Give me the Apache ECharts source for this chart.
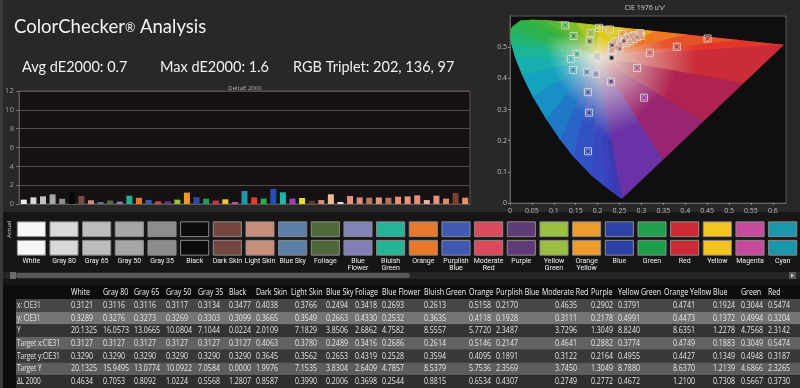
<!DOCTYPE html>
<html><head><meta charset="utf-8">
<script src="https://cdn.jsdelivr.net/npm/echarts@6/dist/echarts.min.js"></script>
<style>html,body{margin:0;padding:0;background:#2a2727;}#c{width:800px;height:388px;}</style>
</head><body><div id="c"></div>
<script>
// ---------- DATA ----------
const barCategories = ['White','Gray 80','Gray 65','Gray 50','Gray 35','Black','Dark Skin','Light Skin','Blue Sky','Foliage','Blue Flower','Bluish Green','Orange','Purplish Blue','Moderate Red','Purple','Yellow Green','Orange Yellow','Blue','Green','Red','Yellow','Magenta','Cyan',
  '100% Red','100% Green','100% Blue','100% Cyan','100% Magenta','100% Yellow',
  'Skin 1','Skin 2','Skin 3','Skin 4','Skin 5','Skin 6','Skin 7','Skin 8','Skin 9','Skin 10','Skin 11','Skin 12','Skin 13','Skin 14','Skin 15','Skin 16','Skin 17'];
const barValues = [0.4634,0.7053,0.8092,1.0224,0.5568,1.2807,0.8587,0.3990,0.2006,0.3698,0.2544,0.8815,0.6534,0.4307,0.2749,0.2772,0.4672,1.2100,0.7308,0.5667,0.3730,0.50,0.21,1.38,
  0.70,0.57,1.60,1.24,0.57,0.64,
  0.35,0.42,1.03,0.21,0.85,0.70,0.67,0.70,0.67,0.78,0.81,0.92,0.42,0.88,0.57,1.17,0.67];
const barColors = ['#ececec','#d8d8d8','#c0c0c0','#a8a8a8','#8c8c8c','#080808','#7a4a44','#c89080','#5a7ca8','#5a6a48','#8080b8','#20b090','#e87830','#4058b0','#d84858','#6a3a80','#98c040','#f09a2a','#3048a8','#20a050','#d03040','#f0c828','#c050a0','#1a98aa',
  '#e83a30','#28b050','#2050b8','#20b8a8','#a040c0','#e8e020',
  '#5a3a30','#d09080','#f0b898','#f0d8d0','#e8907a','#d89078','#b87860','#e09880','#b87058','#e89070','#e8907a','#f08878','#f0b0a8','#e89080','#e08870','#7a4030','#e8906a'];

const swatchLabels = ['White','Gray 80','Gray 65','Gray 50','Gray 35','Black','Dark Skin','Light Skin','Blue Sky','Foliage','Blue\nFlower','Bluish\nGreen','Orange','Purplish\nBlue','Moderate\nRed','Purple','Yellow\nGreen','Orange\nYellow','Blue','Green','Red','Yellow','Magenta','Cyan'];
const swatchRows = ['Actual','Target'];
const actualColors = ['#f7f7f7','#d9d9d9','#bdbdbd','#a6a6a6','#8d8d8d','#0c0c0c','#744841','#c98f7d','#5b7fa6','#4e6a3d','#8281b8','#25b496','#ea7a2b','#4059b4','#dc4a5d','#5f3b78','#99c041','#ee9c2d','#2d41a8','#1fa04f','#cc2b37','#f3c622','#c64b9c','#1b96aa'];
const targetColors = ['#f7f7f7','#d8d8d8','#bcbcbc','#a5a5a5','#8c8c8c','#0a0a0a','#734740','#c88e7c','#5a7ea6','#4d693c','#8180b8','#24b395','#e9792a','#3f58b4','#db495c','#5e3a78','#98bf40','#ed9b2c','#2c40a8','#1e9f4e','#cb2a36','#f2c520','#c54a9b','#1a95a9'];

const tableColumns = ['White','Gray 80','Gray 65','Gray 50','Gray 35','Black','Dark Skin','Light Skin','Blue Sky','Foliage','Blue Flower','Bluish Green','Orange','Purplish Blue','Moderate Red','Purple','Yellow Green','Orange Yellow','Blue','Green','Red'];
const rowLabels = ['x: CIE31','y: CIE31','Y','Target x:CIE31','Target y:CIE31','Target Y','ΔL 2000'];
const xCIE31 = [0.3121,0.3116,0.3116,0.3117,0.3134,0.3477,0.4038,0.3766,0.2494,0.3418,0.2693,0.2613,0.5158,0.2170,0.4635,0.2902,0.3791,0.4741,0.1924,0.3044,0.5474];
const yCIE31 = [0.3289,0.3276,0.3273,0.3269,0.3303,0.3099,0.3665,0.3549,0.2663,0.4330,0.2532,0.3635,0.4118,0.1928,0.3111,0.2178,0.4991,0.4473,0.1372,0.4994,0.3204];
const bigY = [20.1325,16.0573,13.0665,10.0804,7.1044,0.0224,2.0109,7.1829,3.8506,2.6862,4.7582,8.5557,5.7720,2.3487,3.7296,1.3049,8.8240,8.6351,1.2278,4.7568,2.3142];
const targetX = [0.3127,0.3127,0.3127,0.3127,0.3127,0.3127,0.4063,0.3780,0.2489,0.3416,0.2686,0.2614,0.5146,0.2147,0.4641,0.2882,0.3774,0.4749,0.1883,0.3049,0.5474];
const targetY = [0.3290,0.3290,0.3290,0.3290,0.3290,0.3290,0.3645,0.3562,0.2653,0.4319,0.2528,0.3594,0.4095,0.1891,0.3122,0.2164,0.4955,0.4427,0.1349,0.4948,0.3187];
const targetBigY = [20.1325,15.9495,13.0774,10.0922,7.0584,0.0000,1.9976,7.1535,3.8304,2.6409,4.7857,8.5379,5.7536,2.3569,3.7450,1.3049,8.7880,8.6370,1.2139,4.6866,2.3265];
const dE2000 = [0.4634,0.7053,0.8092,1.0224,0.5568,1.2807,0.8587,0.3990,0.2006,0.3698,0.2544,0.8815,0.6534,0.4307,0.2749,0.2772,0.4672,1.2100,0.7308,0.5667,0.3730];

// CIE u'v' points
const cieU = [0.1985,0.2320,0.2496,0.2316,0.1751,0.1820,0.1959,0.1528,0.2986,0.1779,0.3193,0.2306,0.1842,0.2556,0.1806,0.1452,0.3808,0.2280,0.2900,0.1440,
  0.4510,0.1260,0.1780,0.1390,0.3060,0.2030,
  0.2330,0.2400,0.2470,0.2560,0.2630,0.2690,0.2790,0.2850,0.2900,0.2970,0.2330,0.2440,0.2650,0.2740,0.2520,0.2600,0.2820];
const cieV = [0.4700,0.4660,0.4959,0.4910,0.4207,0.5187,0.4143,0.4783,0.5363,0.3556,0.4822,0.3895,0.5457,0.5426,0.2897,0.5360,0.5015,0.5570,0.4330,0.4270,
  0.5280,0.5700,0.1660,0.4620,0.3380,0.5620,
  0.5060,0.5160,0.5190,0.5250,0.5290,0.5320,0.5350,0.5380,0.5320,0.5450,0.4920,0.5000,0.5130,0.5190,0.5100,0.5200,0.5260];
const cieColors = ['#c8c8c8','#000000','#7a4a42','#c8907e','#5a7ca6','#4d6a3c','#8080b8','#22b496','#e87a2a','#3f58b4','#dc4a5c','#5e3a78','#98c040','#ec9c2c','#2c40a8','#1ea050','#cc2a36','#f2c620','#c64a9c','#1a96aa',
  '#ff2a20','#20c040','#2040d0','#20c8c8','#c030c8','#f0f020',
  '#5a3a30','#d09080','#f0b898','#f0d8d0','#e8907a','#d89078','#b87860','#e09880','#b87058','#e89070','#e8907a','#f08878','#f0b0a8','#e89080','#e08870','#7a4030','#e8906a'];

// spectral locus (u', v') outline of the diagram and its edge colours
const locusU = [0.2568,0.2522,0.2347,0.2161,0.1877,0.1441,0.1147,0.0828,0.0521,0.0282,0.0119,0.0035,0.0014,0.0046,0.0231,0.0501,0.0792,0.1127,0.1531,0.2026,0.2623,0.3315,0.4035,0.5203,0.6234,0.5317,0.4401,0.3485];
const locusV = [0.0166,0.0169,0.0350,0.0549,0.0871,0.1510,0.2044,0.2708,0.3427,0.4117,0.4698,0.5131,0.5432,0.5638,0.5837,0.5868,0.5856,0.5821,0.5766,0.5694,0.5604,0.5501,0.5393,0.5219,0.5065,0.3840,0.2616,0.1391];
const locusColors = ['#3a36a8','#3b3ab2','#3a40bb','#3848c0','#3252c4','#2a64c8','#2078c8','#1890c6','#14a2c0','#17b0ae','#1cb694','#22b676','#28b45c','#2cb24e','#32b244','#3eb43c','#58b834','#7cc02c','#acc824','#e0cc20','#f2a422','#ee7824','#e85228','#e2362a','#cc2c38','#b02250','#9a2470','#6a32a6'];
const whitePoint = [0.1978, 0.4683];

// ---------- LAYOUT (not data) ----------
const colValueX = [71,103,134,166,198,229,256,295,326,355,382,424,469,496,555,591,618,673,713,741,768];
const colHeaderX = [71,103,134,166,198,229,256,291,326,355,382,424,469,496,542,591,618,664,713,741,768];
const rowFills = ['#474545','#767474','#343232','#646262','#3a3838','#5e5c5c','#302e2e'];

const graphics = [];
graphics.push({type:'rect', z:-10, shape:{x:0,y:212,width:800,height:73}, style:{fill:'#171515'}});
graphics.push({type:'rect', z:-10, shape:{x:0,y:285,width:800,height:103}, style:{fill:'#0e0d0d'}});
graphics.push({type:'rect', z:-9, shape:{x:0,y:0,width:3,height:388}, style:{fill:'#3b3939'}});
// scrollbar
graphics.push({type:'rect', z:-8, shape:{x:3,y:272,width:797,height:7}, style:{fill:'#262424'}});
graphics.push({type:'rect', z:-7, shape:{x:10,y:272,width:6,height:7}, style:{fill:'#6c6a6a'}});
graphics.push({type:'rect', z:-7, shape:{x:16,y:273,width:394,height:5,r:2.5}, style:{fill:'#5a5858'}});
graphics.push({type:'rect', z:-7, shape:{x:789,y:272,width:7,height:7}, style:{fill:'#5a5858'}});
graphics.push({type:'polygon', z:-6, shape:{points:[[791,273.5],[791,277.5],[794,275.5]]}, style:{fill:'#cfcfcf'}});

const rowH = 12.7, rowTop = 299;
const tableRows = [xCIE31, yCIE31, bigY, targetX, targetY, targetBigY, dE2000];
function txt(x, y, s, color, sx) {
  return {type:'text', x:x, y:y, scaleX:sx || 0.78, originX:0, originY:0, z:5,
    style:{text:s, fill:color, fontSize:9, fontFamily:'Open Sans', verticalAlign:'middle', align:'left'}};
}
tableColumns.forEach((h, i) => graphics.push(txt(colHeaderX[i], 292, h, '#f2f2f2')));
tableRows.forEach((arr, r) => {
  const y = rowTop + r*rowH;
  graphics.push({type:'rect', z:-5, shape:{x:16,y:y,width:784,height:rowH}, style:{fill:rowFills[r]}});
  graphics.push(txt(17, y + rowH/2, rowLabels[r], '#e6e6e6', 0.72));
  arr.forEach((v, i) => graphics.push(txt(colValueX[i], y + rowH/2, v.toFixed(4), '#e6e6e6')));
});

// ---------- CHART ----------
const chart = echarts.init(document.getElementById('c'), null, {width:800, height:388});
const swatchData = [];
for (let r = 0; r < 2; r++) for (let i = 0; i < swatchLabels.length; i++) swatchData.push([i, r]);

const statStyle = {color:'#f0f0f0', fontSize:14.5, fontWeight:'normal', fontFamily:'Lato'};
chart.setOption({
  backgroundColor: '#2a2727',
  animation: false,
  textStyle: {fontFamily: 'Open Sans'},
  title: [
    {text:'ColorChecker{r|®} Analysis', left:14, top:18, padding:0, textStyle:{color:'#f2f2f2', fontSize:18.5, fontWeight:'normal', fontFamily:'Lato', rich:{r:{fontSize:12.5, color:'#f2f2f2', fontFamily:'Lato'}}}},
    {text:'Avg dE2000: 0.7', left:22, top:60, padding:0, textStyle:statStyle},
    {text:'Max dE2000: 1.6', left:160, top:60, padding:0, textStyle:statStyle},
    {text:'RGB Triplet: 202, 136, 97', left:293, top:60, padding:0, textStyle:statStyle},
    {text:'DeltaE 2000', left:245, top:85, padding:0, textAlign:'center', textStyle:{color:'#b0b0b0', fontSize:6, fontWeight:'normal'}},
    {text:"CIE 1976 u'v'", left:645, top:4, padding:0, textAlign:'center', textStyle:{color:'#d0d0d0', fontSize:7, fontWeight:'normal'}}
  ],
  graphic: graphics,
  grid: [
    {left:19, right:330, top:91, bottom:184, show:true, backgroundColor:'#161213', borderColor:'#5a5858', borderWidth:1},
    {left:510, right:14, top:16, bottom:185, show:true, backgroundColor:'#110e0f', borderColor:'#5a5858', borderWidth:1},
    {left:15, right:1, top:220, height:37}
  ],
  xAxis: [
    {gridIndex:0, type:'category', data:barCategories, axisLabel:{show:false}, axisTick:{show:false}, axisLine:{lineStyle:{color:'#5a5858'}}},
    {gridIndex:1, type:'value', min:0, max:0.63, interval:0.05, splitLine:{show:false},
      axisLabel:{fontSize:7, color:'#bdbdbd', margin:4, showMaxLabel:false, formatter:v => String(+v.toFixed(2))},
      axisTick:{length:2, lineStyle:{color:'#888'}}, axisLine:{lineStyle:{color:'#666'}}},
    {gridIndex:2, type:'category', data:swatchLabels, position:'bottom',
      axisLabel:{interval:0, fontSize:7, color:'#f0f0f0', margin:1, lineHeight:7, fontFamily:'Roboto'},
      axisTick:{show:false}, axisLine:{show:false}}
  ],
  yAxis: [
    {gridIndex:0, type:'value', min:0, max:12, interval:2,
      axisLabel:{fontSize:8, color:'#9a9a9a', margin:5}, splitLine:{lineStyle:{color:'#4e4c4c'}},
      axisTick:{show:true, length:3, lineStyle:{color:'#777'}}, axisLine:{show:true, lineStyle:{color:'#5a5858'}}},
    {gridIndex:1, type:'value', min:0, max:0.6, interval:0.1, splitLine:{show:false},
      axisLabel:{fontSize:7, color:'#bdbdbd', margin:3, showMaxLabel:false, formatter:v => String(+v.toFixed(1))},
      axisTick:{show:true, length:2, lineStyle:{color:'#888'}}, axisLine:{show:true, lineStyle:{color:'#666'}}},
    {gridIndex:2, type:'category', data:swatchRows, inverse:true,
      axisLabel:{rotate:90, fontSize:6, color:'#cfcfcf', margin:3}, axisTick:{show:false}, axisLine:{show:false}}
  ],
  series: [
    {type:'bar', xAxisIndex:0, yAxisIndex:0, barWidth:6,
      data: barValues.map((v, i) => ({value:v, itemStyle:{color:barColors[i]}}))},
    {type:'custom', xAxisIndex:1, yAxisIndex:1, silent:true, clip:true, z:1,
      data: locusU.map((u, i) => [i]),
      renderItem: function (params, api) {
        const i = api.value(0);
        const j = (i + 1) % locusU.length;
        const c = api.coord(whitePoint);
        const p1 = api.coord([locusU[i], locusV[i]]);
        const p2 = api.coord([locusU[j], locusV[j]]);
        const m = [(p1[0] + p2[0]) / 2, (p1[1] + p2[1]) / 2];
        const g = new echarts.graphic.LinearGradient(c[0], c[1], m[0], m[1], [
          {offset:0, color:'#ecead8'}, {offset:0.6, color:locusColors[i]}, {offset:1, color:locusColors[i]}], true);
        return {type:'polygon', shape:{points:[c, p1, p2]}, style:{fill:g, stroke:g, lineWidth:1}};
      }},
    {type:'scatter', xAxisIndex:1, yAxisIndex:1, symbol:'rect', symbolSize:7, z:3,
      itemStyle:{color:'rgba(0,0,0,0.15)', borderColor:'#e6e6e6', borderWidth:1},
      data: cieU.map((u, i) => [u, cieV[i]])},
    {type:'scatter', xAxisIndex:1, yAxisIndex:1, symbol:'circle', symbolSize:4.5, z:4,
      data: cieU.map((u, i) => ({value:[u, cieV[i]], itemStyle:{color:cieColors[i], borderColor:'#dcdcdc', borderWidth:0.7}}))},
    {type:'custom', xAxisIndex:2, yAxisIndex:2, silent:true,
      data: swatchData,
      renderItem: function (params, api) {
        const i = api.value(0), r = api.value(1);
        const c = api.coord([i, r]);
        const s = api.size([1, 1]);
        const w = s[0] * 0.86, h = s[1] * 0.8;
        return {type:'rect', shape:{x:c[0] - w / 2, y:c[1] - h / 2, width:w, height:h},
          style:{fill:(r === 0 ? actualColors : targetColors)[i], stroke:'#8c8a8a', lineWidth:1}};
      }}
  ]
});
</script></body></html>
